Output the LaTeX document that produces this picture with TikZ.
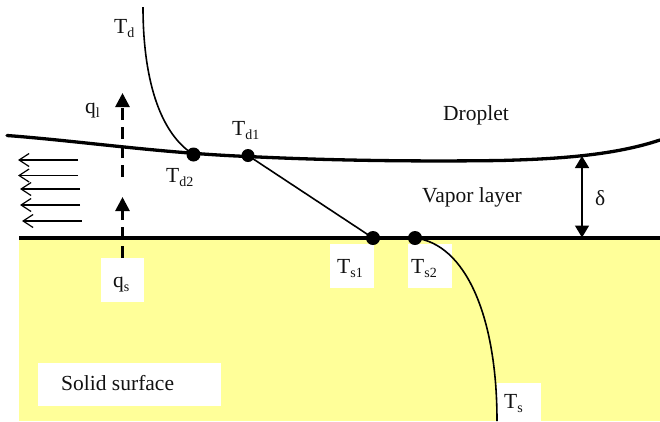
\documentclass[tikz,border=0pt]{standalone}
\usepackage{fontspec}
\setmainfont{Liberation Serif}
\usetikzlibrary{arrows.meta}
\definecolor{solidfill}{HTML}{FFFF99}
\definecolor{inkc}{HTML}{111111}
\tikzset{
 lbl/.style={inner sep=0pt,anchor=base west,font=\fontsize{21.5}{25}\selectfont,text=inkc},
 whitebox/.style={fill=white,draw=none},
 dotn/.style={circle,fill=black,inner sep=0pt,minimum size=14pt},
 interface/.style={line width=3.3pt,line cap=round},
 curveline/.style={line width=1.6pt},
 dasharrow/.style={line width=2.7pt,dash pattern=on 12pt off 7pt,-{Triangle[length=14pt,width=14pt]}},
 wind/.style={line width=1.2pt,-{Straight Barb[length=10pt,width=13pt,line width=1.2pt]}},
 gap/.style={line width=1.6pt,{Triangle[length=12pt,width=14pt]}-{Triangle[length=12pt,width=14pt]}}
}
\newcommand{\subs}[2]{#1\raisebox{-4.5pt}{\fontsize{14}{15}\selectfont #2}}
\begin{document}
\begin{tikzpicture}[x=1pt,y=-1pt]
\useasboundingbox (0,0) rectangle (660,421);
\fill[solidfill] (19,238) rectangle (660,421);
% dashed heat-flux arrows
\coordinate (qsfrom) at (122.5,258);
\coordinate (qsto) at (122.5,197);
\coordinate (qlfrom) at (122.5,177);
\coordinate (qlto) at (122.5,93);
\draw[dasharrow] (qsfrom) -- (qsto);
\draw[dasharrow] (qlfrom) -- (qlto);
% white label boxes
\fill[whitebox] (38,362.5) rectangle (221,406);
\fill[whitebox] (101,258) rectangle (144,302);
\fill[whitebox] (330,244) rectangle (374,288);
\fill[whitebox] (408,244) rectangle (452,288);
\fill[whitebox] (497,383) rectangle (541,421);
% surface and droplet interface
\coordinate (surfL) at (19,238);
\coordinate (surfR) at (660,238);
\draw[line width=3.5pt] (surfL) -- (surfR);
\coordinate (dropL) at (7,135.5);
\coordinate (dropR) at (660,140);
\draw[interface] (dropL) .. controls (80,141) and (160,153) .. (248,156.5)
  .. controls (340,161) and (430,161.5) .. (500,160.5)
  .. controls (560,159) and (615,155) .. (dropR);
% dots
\node[dotn] (Td2) at (193.5,154.5) {};
\node[dotn,minimum size=13pt] (Td1) at (248,155.5) {};
\node[dotn] (Ts1) at (373,238) {};
\node[dotn] (Ts2) at (415,238) {};
% temperature profiles
\coordinate (Tdtop) at (143,7);
\coordinate (Tsbot) at (497,421);
\draw[curveline] (Tdtop) .. controls (143,75) and (158,132) .. (Td2.center);
\draw[curveline] (Td1.center) -- (Ts1.center);
\draw[curveline] (Ts2.center) .. controls (465,244) and (497,315) .. (Tsbot);
% gap arrow
\coordinate (gapT) at (582,156);
\coordinate (gapB) at (582,237.5);
\draw[gap] (gapT) -- (gapB);
% wind arrows
\foreach \n/\xa/\xb/\yy in {1/78/18/160,2/78/18/175.5,3/80/20/189,4/80/20/205,5/81.5/22/221}{
  \coordinate (wa\n) at (\xa,\yy);
  \coordinate (wb\n) at (\xb,\yy);
  \draw[wind] (wa\n) -- (wb\n);
}
% labels
\node[lbl] (lTd) at (114,33) {\subs{T}{d}};
\node[lbl] (lql) at (85,113) {\subs{q}{l}};
\node[lbl] (lTd1) at (232,135) {\subs{T}{d1}};
\node[lbl] (lTd2) at (166,182) {\subs{T}{d2}};
\node[lbl] (lDrop) at (443,120) {Droplet};
\node[lbl] (lVap) at (422,202) {Vapor layer};
\node[lbl] (ldelta) at (595,205) {δ};
\node[lbl] (lqs) at (113,287) {\subs{q}{s}};
\node[lbl] (lTs1) at (337,273) {\subs{T}{s1}};
\node[lbl] (lTs2) at (411,273) {\subs{T}{s2}};
\node[lbl] (lTs) at (504,408) {\subs{T}{s}};
\node[lbl] (lSolid) at (61,390) {Solid surface};
\end{tikzpicture}
\end{document}
